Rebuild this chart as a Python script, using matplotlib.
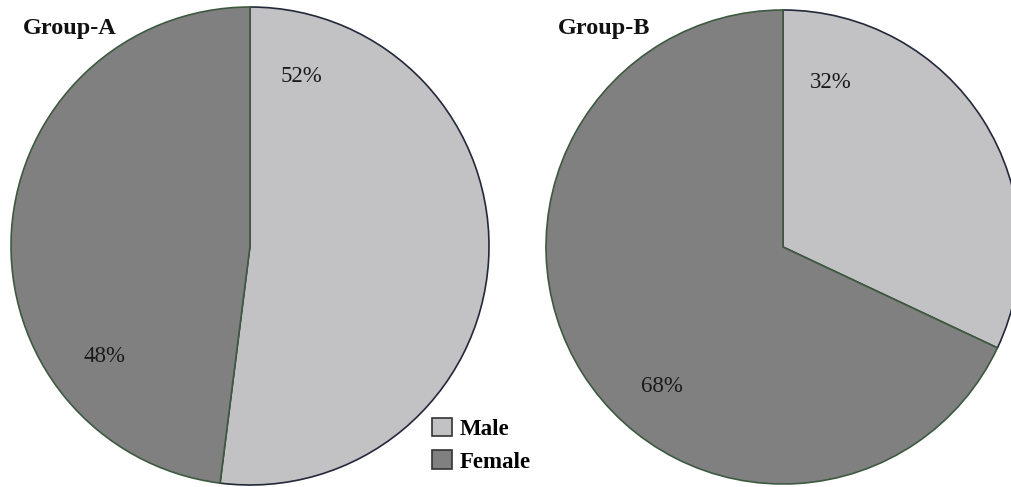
import matplotlib
matplotlib.use("Agg")
import matplotlib.pyplot as plt

# Gender split for the two groups (percent)
categories = ["Male", "Female"]
group_a = [52, 48]
group_b = [32, 68]
titles = ["Group-A", "Group-B"]

W, H = 1011, 487
fig = plt.figure(figsize=(W / 100, H / 100), dpi=100)
ax = fig.add_axes([0, 0, 1, 1])
ax.set_xlim(0, W)
ax.set_ylim(0, H)
ax.set_aspect("equal")
ax.axis("off")

fill_colors = ["#c2c2c4", "#808080"]
edge_colors = ["#23283a", "#3d5a40"]
serif = "Liberation Serif"

def pie_at(values, cx, cy, r, label_pos, title, title_xy):
    wedges, _ = ax.pie(values, colors=fill_colors, startangle=90, counterclock=False,
                       center=(cx, H - cy), radius=r, frame=True,
                       wedgeprops=dict(linewidth=1.2))
    for w, ec in zip(wedges, edge_colors):
        w.set_edgecolor(ec)
    for v, (lx, ly) in zip(values, label_pos):
        ax.text(lx, H - ly, f"{v}%", ha="center", va="center",
                fontsize=16.5, family=serif, color="#1a1a1a")
    ax.text(title_xy[0], H - title_xy[1], title, ha="left", va="baseline",
            fontsize=17.5, fontweight="bold", family=serif, color="#111111")
    return wedges

wa = pie_at(group_a, 250, 246, 239, [(301, 77), (105, 357)], titles[0], (23, 34))
wb = pie_at(group_b, 783, 247, 237, [(831, 83), (662, 387)], titles[1], (558, 34))

ax.set_xlim(0, W)
ax.set_ylim(0, H)
ax.axis("off")

leg = ax.legend(wa, categories, loc="upper left",
                bbox_to_anchor=(416 / W, 1 - 402 / H), frameon=False,
                prop=dict(family=serif, weight="bold", size=16.5),
                handlelength=0.85, handleheight=0.85, handletextpad=0.35,
                labelspacing=0.45, borderpad=0.2)
for h in leg.legend_handles:
    h.set_edgecolor("#333333")

fig.savefig("out.png", dpi=100)
